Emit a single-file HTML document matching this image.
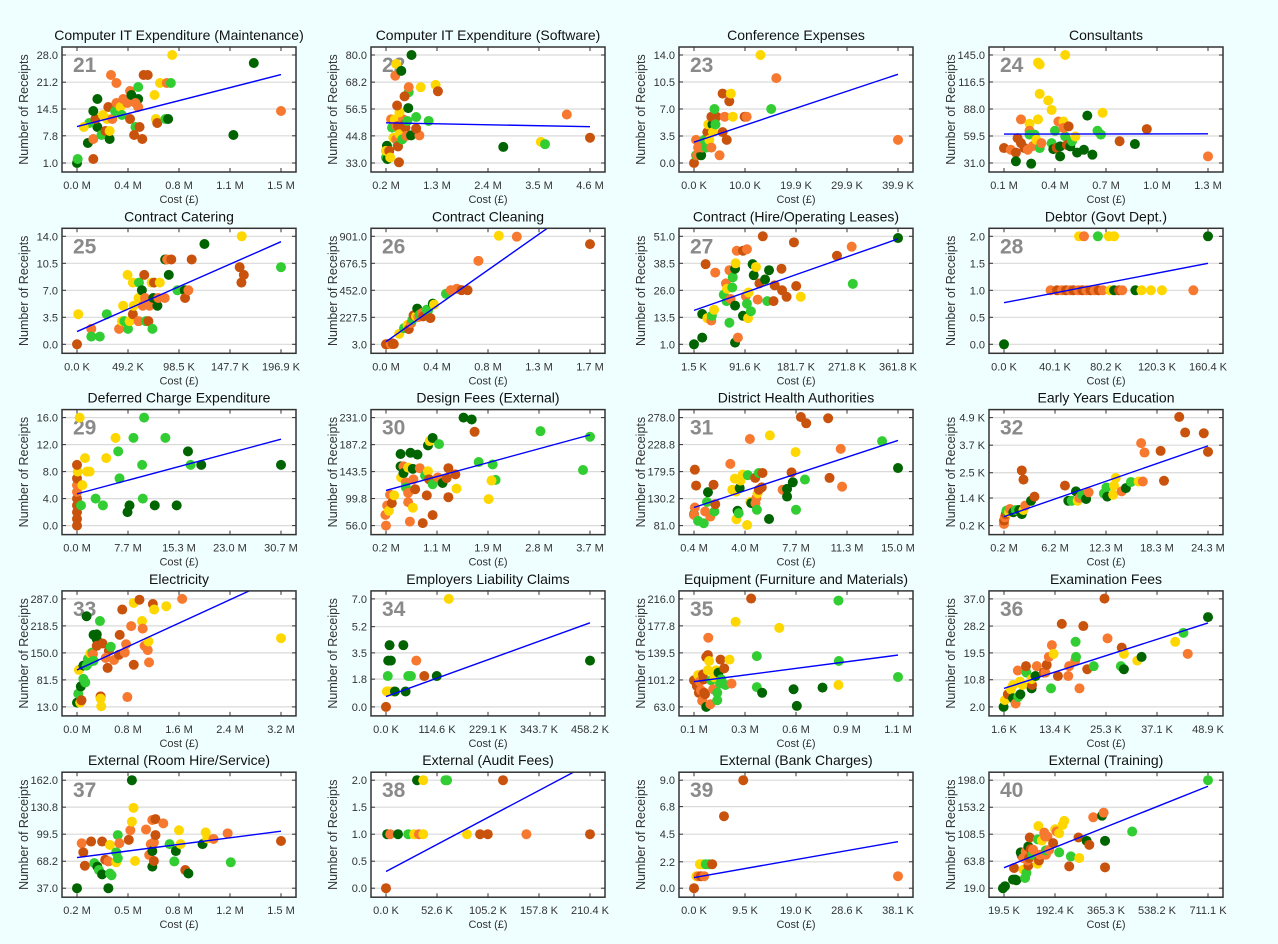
<!DOCTYPE html>
<html><head><meta charset="utf-8">
<style>
html,body{margin:0;padding:0;background:#effefe;}
svg{display:block;font-family:"Liberation Sans",Arial,sans-serif;}
</style></head>
<body>
<svg id="chart" width="1278" height="944" viewBox="0 0 1278 944"></svg>
<script>
const titles = ["Computer IT Expenditure (Maintenance)","Computer IT Expenditure (Software)","Conference Expenses","Consultants",
"Contract Catering","Contract Cleaning","Contract (Hire/Operating Leases)","Debtor (Govt Dept.)",
"Deferred Charge Expenditure","Design Fees (External)","District Health Authorities","Early Years Education",
"Electricity","Employers Liability Claims","Equipment (Furniture and Materials)","Examination Fees",
"External (Room Hire/Service)","External (Audit Fees)","External (Bank Charges)","External (Training)"];
const panelNumbers = [21,22,23,24,25,26,27,28,29,30,31,32,33,34,35,36,37,38,39,40];
const xTicks = [
["0.0 M","0.4 M","0.8 M","1.1 M","1.5 M"],["0.2 M","1.3 M","2.4 M","3.5 M","4.6 M"],["0.0 K","10.0 K","19.9 K","29.9 K","39.9 K"],["0.1 M","0.4 M","0.7 M","1.0 M","1.3 M"],
["0.0 K","49.2 K","98.5 K","147.7 K","196.9 K"],["0.0 M","0.4 M","0.8 M","1.3 M","1.7 M"],["1.5 K","91.6 K","181.7 K","271.8 K","361.8 K"],["0.0 K","40.1 K","80.2 K","120.3 K","160.4 K"],
["0.0 M","7.7 M","15.3 M","23.0 M","30.7 M"],["0.2 M","1.1 M","1.9 M","2.8 M","3.7 M"],["0.4 M","4.0 M","7.7 M","11.3 M","15.0 M"],["0.2 M","6.2 M","12.3 M","18.3 M","24.3 M"],
["0.0 M","0.8 M","1.6 M","2.4 M","3.2 M"],["0.0 K","114.6 K","229.1 K","343.7 K","458.2 K"],["0.1 M","0.3 M","0.6 M","0.9 M","1.1 M"],["1.6 K","13.4 K","25.3 K","37.1 K","48.9 K"],
["0.2 M","0.5 M","0.8 M","1.2 M","1.5 M"],["0.0 K","52.6 K","105.2 K","157.8 K","210.4 K"],["0.0 K","9.5 K","19.0 K","28.6 K","38.1 K"],["19.5 K","192.4 K","365.3 K","538.2 K","711.1 K"]];
const yTicks = [
["1.0","7.8","14.5","21.2","28.0"],["33.0","44.8","56.5","68.2","80.0"],["0.0","3.5","7.0","10.5","14.0"],["31.0","59.5","88.0","116.5","145.0"],
["0.0","3.5","7.0","10.5","14.0"],["3.0","227.5","452.0","676.5","901.0"],["1.0","13.5","26.0","38.5","51.0"],["0.0","0.5","1.0","1.5","2.0"],
["0.0","4.0","8.0","12.0","16.0"],["56.0","99.8","143.5","187.2","231.0"],["81.0","130.2","179.5","228.8","278.0"],["0.2 K","1.4 K","2.5 K","3.7 K","4.9 K"],
["13.0","81.5","150.0","218.5","287.0"],["0.0","1.8","3.5","5.2","7.0"],["63.0","101.2","139.5","177.8","216.0"],["2.0","10.8","19.5","28.2","37.0"],
["37.0","68.2","99.5","130.8","162.0"],["0.0","0.5","1.0","1.5","2.0"],["0.0","2.2","4.5","6.8","9.0"],["19.0","63.8","108.5","153.2","198.0"]];
// fitted trend line endpoints [x1,y1,x2,y2]
const fits = [[0,10.1,1.5,23.1],[0.2,50.5,4.6,48.8],[0,2.7,39.9,11.5],[0.1,61.5,1.3,61.8],
[0,1.65,196.9,13.3],[0,25,1.7,1217],[1.5,16.7,361.8,49.8],[0,0.77,160.4,1.5],
[0,4.7,30.7,12.8],[0.2,113,3.7,203],[0.4,114,15,236.4],[0.2,0.59,24.3,3.67],
[0,106.8,3.2,344.3],[0,0.67,458.2,5.45],[0.1,98.8,1.1,136.4],[1.6,8,48.9,29.2],
[0.2,72.4,1.5,103],[0,0.31,210.4,2.31],[0,0.89,38.1,3.88],[19.5,53,711.1,188]];
// points [cost, receipts, colourGroup]
const pts = [
[[0,1,0],[0.005,2,1],[0.12,2,4],[0.08,6,0],[0.12,7,3],[0.15,10,0],[0.09,11,1],[0.05,10,2],[0.135,12,4],[0.12,14,0],[0.15,17,0],[0.18,8,1],[0.21,9,4],[0.24,7,0],[0.24,9,2],[0.19,13,2],[0.22,12,2],[0.26,12,3],[0.23,15,4],[0.28,14,1],[0.25,23,3],[0.29,21,3],[0.29,16,3],[0.32,15,2],[0.33,13,1],[0.34,17,3],[0.37,16,3],[0.39,19,3],[0.40,18,0],[0.39,12,4],[0.43,10,1],[0.42,8,4],[0.45,20,1],[0.45,17,0],[0.43,16,3],[0.46,10,4],[0.45,15,3],[0.48,7,4],[0.49,23,4],[0.52,23,4],[0.57,18,2],[0.58,12,2],[0.59,11,4],[0.61,21,2],[0.66,21,3],[0.69,21,1],[0.65,12,1],[0.67,12,0],[0.70,28,2],[1.15,8,0],[1.30,26,0],[1.5,14,3]],
[[0.2,35.4,1],[0.22,40.5,0],[0.23,34.7,0],[0.2,38.3,2],[0.27,38.3,4],[0.29,35.4,2],[0.33,48.4,1],[0.31,52,3],[0.36,44,2],[0.39,52,2],[0.42,43.3,3],[0.45,40.5,1],[0.46,40.2,4],[0.43,49,3],[0.46,49,4],[0.49,45.5,2],[0.48,33.3,4],[0.55,43.3,1],[0.57,52,3],[0.6,49.8,4],[0.62,48.4,4],[0.64,44.8,3],[0.66,51.3,1],[0.49,55.1,2],[0.44,58,4],[0.42,76.1,2],[0.4,71,3],[0.53,73.1,0],[0.75,80,0],[0.68,56.9,0],[0.69,63.8,1],[0.69,66,3],[0.6,62,4],[0.74,45,0],[0.85,53,1],[0.92,45,3],[0.85,48,4],[0.95,66,2],[1.12,51.3,1],[1.27,67,2],[1.32,64.2,4],[2.73,40,0],[3.54,42.2,2],[3.63,41.2,1],[4.1,54.1,3],[4.6,44,4]],
[[0,0,4],[0.4,1,1],[0.6,1,3],[1.4,1,0],[0.4,3,3],[0.8,2,3],[1.6,2,3],[2,3,1],[2.4,2,1],[2.6,4,4],[3,3,2],[2.8,5,2],[3.6,5,0],[3.4,2,3],[3.7,4,2],[3.4,6,4],[4.4,6,4],[4,7,1],[4.2,5,1],[5,1,3],[5.6,4,4],[5.6,9,4],[6,6,3],[6.4,3,4],[6.9,8,4],[7.2,9,2],[7.6,6,2],[9.9,6,4],[10.3,6,3],[13,14,2],[15.1,7,1],[16.1,11,3],[39.9,3,3]],
[[0.1,46.8,4],[0.14,45,3],[0.17,42,4],[0.17,32.8,0],[0.18,57.3,4],[0.2,77,3],[0.2,52,4],[0.22,46.8,4],[0.24,45,3],[0.25,72.4,2],[0.25,65,3],[0.25,61,1],[0.27,49,3],[0.26,30.3,0],[0.28,61,1],[0.29,55.5,2],[0.3,137,2],[0.31,135,2],[0.3,77,2],[0.31,104,2],[0.31,46.8,1],[0.32,52,3],[0.36,97,2],[0.38,87,2],[0.4,65,1],[0.38,52,1],[0.39,45.7,0],[0.41,47,4],[0.42,74.8,3],[0.43,38,0],[0.43,48.5,0],[0.45,74.8,2],[0.46,145,2],[0.46,59,1],[0.45,68,3],[0.48,69.6,4],[0.47,50,4],[0.49,48.5,0],[0.5,54,1],[0.52,59,2],[0.53,42,0],[0.57,45,0],[0.59,81,0],[0.62,39.8,0],[0.65,65,1],[0.67,61,1],[0.68,84,2],[0.78,54,4],[0.87,51,0],[0.94,66.8,4],[1.3,38,3]],
[[0,0,4],[1.2,3.9,2],[13.8,2,3],[13.8,1,1],[22,1,1],[28.7,3.9,1],[40.6,2,3],[43.3,3,2],[44.5,5,2],[45.7,3,1],[49.2,2,1],[50.8,3,2],[48.8,9,2],[53.9,8,2],[53.9,3.9,4],[54.7,5,2],[59.4,6,2],[59.4,3,3],[59.8,8,1],[62.6,7,0],[63.4,5,3],[64.9,9,4],[65.7,6,3],[66.5,3,1],[68.9,3,4],[70,5,3],[72,8,2],[72.8,2,1],[73.6,6,0],[74.4,8,4],[77.6,5,0],[78.4,6,3],[79.9,8,2],[84.7,6,3],[85.1,11,0],[87,11,3],[88.6,9,0],[91,11,4],[96.9,7,1],[104,7,0],[104.3,6,4],[107.5,7,3],[110.7,11,4],[123,13,0],[157,10,4],[158.7,8,4],[159,14,2],[161,9,4],[196.9,10,1]],
[[0,3,4],[0.02,6,4],[0.04,4,3],[0.055,11,4],[0.065,5,4],[0.11,90,2],[0.15,137,1],[0.18,165,2],[0.19,129,4],[0.21,179,3],[0.22,207,1],[0.23,244,4],[0.25,235,2],[0.26,300,0],[0.27,230,3],[0.28,249,1],[0.3,263,3],[0.31,235,4],[0.34,291,1],[0.35,285,1],[0.37,221,4],[0.39,341,0],[0.4,333,2],[0.5,423,1],[0.54,453,3],[0.59,465,3],[0.63,453,4],[0.68,453,4],[0.77,697,3],[0.94,906,2],[1.09,898,3],[1.7,836,4]],
[[1.5,1,0],[16,4.1,0],[16,15,0],[22,38.1,4],[25,13.1,2],[32,12,3],[33,14.2,1],[37,17,2],[39,34.2,3],[54,24,1],[58,29.2,3],[59,21,1],[60,26.7,2],[64,11,1],[64,35.3,3],[66,22,3],[69,27.3,1],[70,32,1],[74,36,0],[74,18.9,0],[75,38.5,2],[74,1.8,0],[79,4.1,3],[77,44.3,3],[88,44.3,4],[95,45,3],[88,14.2,0],[93,23.3,3],[95,19.8,1],[97,13.1,2],[98,25,2],[102,16.3,1],[105,38.1,0],[107,33,0],[111,36.8,2],[114,21.7,3],[117,29.2,4],[123,51,4],[127,31,0],[131,21,1],[134,35.3,0],[142,21,4],[144,28.3,4],[156,36,4],[157,26,4],[165,23,4],[178,48.2,4],[182,28,4],[190,23,2],[254,42,4],[280,46.2,3],[282,29,1],[361.8,50.2,0]],
[[0,0,0],[36.6,1,3],[41.7,1,4],[45.6,1,3],[48.8,1,4],[52,1,3],[54.5,1,4],[58.4,1,3],[61.6,1,4],[64.8,1,3],[68,1,4],[71.2,1,3],[74.4,1,4],[77.6,1,3],[83.4,1,2],[86.6,1,0],[90.5,1,4],[93,1,3],[103.3,1,0],[108.1,1,2],[115.5,1,2],[124.2,1,2],[148.9,1,3],[59,2,2],[62.9,2,3],[73.8,2,1],[82.4,2,2],[86.6,2,2],[160.4,2,0]],
[[0,0,4],[0,1,4],[0,2,4],[0,3,4],[0,4,4],[0,5,3],[0,6,3],[0,7,4],[0.1,8,2],[0,9,4],[0.4,16,2],[0.6,3,1],[0.8,6,2],[1.2,10,2],[1.5,8,2],[1.9,8,2],[2.8,4,1],[3.9,3,1],[4.4,10,2],[5.8,13,2],[6.2,11,1],[6.4,7,1],[7.6,2,0],[7.9,3,0],[8.5,13,1],[9.8,9,1],[9.9,4,1],[10.1,16,1],[11.7,3,0],[13.3,13,1],[15,3,0],[16.7,11,0],[17.1,9,1],[18.7,9,0],[30.7,9,0]],
[[0.2,56,3],[0.19,73.4,3],[0.22,88.6,3],[0.25,80,2],[0.27,106,3],[0.3,92.4,4],[0.34,105,2],[0.45,172,0],[0.46,134,2],[0.45,152,0],[0.5,152,3],[0.5,141,0],[0.54,126,3],[0.54,118,1],[0.58,150,2],[0.58,109,3],[0.58,94,3],[0.61,62.5,3],[0.62,174,0],[0.66,148,0],[0.66,85,2],[0.67,131,3],[0.7,115,4],[0.74,171,0],[0.78,149,3],[0.83,60,4],[0.87,137,1],[0.9,105,4],[0.92,144,2],[0.92,186,0],[0.95,193,2],[0.94,131,4],[1.0,198,0],[1.0,73,4],[1.0,123,1],[1.09,134,3],[1.11,188,1],[1.17,125,0],[1.24,133,4],[1.27,149,4],[1.27,102,4],[1.39,139,4],[1.41,116,2],[1.53,231,0],[1.67,228,0],[1.72,208,4],[1.79,159,1],[2.03,155,1],[2.08,130,1],[2.01,129,2],[1.96,99,2],[2.85,209,1],[3.58,146,1],[3.7,200,1]],
[[0.4,101.8,0],[0.46,114,3],[0.4,100.6,3],[0.46,183,4],[0.55,154,4],[0.69,89.6,1],[1.1,85.3,1],[1.2,106.7,3],[1.33,124,1],[1.4,142,0],[1.57,97.5,3],[1.8,155.6,4],[1.86,106.7,1],[1.92,120,4],[3,193.6,3],[3.14,146.5,2],[3.4,143,2],[3.32,166.6,2],[3.44,92.6,2],[3.52,108,0],[3.6,103.6,1],[3.67,149.5,0],[3.73,163,2],[3.88,174,2],[4.2,82,2],[4.25,173,1],[4.4,239,3],[4.43,124,2],[4.5,122,0],[4.78,168,4],[4.8,122,3],[4.86,131,3],[4.9,109.8,1],[4.95,140,2],[5.04,177,1],[5.04,146.5,4],[5.25,150.7,4],[5.3,177,4],[5.77,93,0],[5.83,245.5,2],[6.74,146.5,3],[7.06,148,0],[7.06,134,0],[7.38,178,4],[7.47,160,0],[7.7,109.8,1],[7.67,215,2],[8.05,279,4],[8.34,165,1],[8.43,267.6,4],[10,276.8,4],[10.1,168,4],[10.9,221,3],[11,152,3],[13.86,235,1],[15,186,0]],
[[0.2,0.27,3],[0.2,0.42,4],[0.3,0.56,3],[0.4,0.7,4],[0.5,0.85,1],[0.8,0.78,2],[0.9,0.92,3],[1.3,0.78,0],[1.6,0.88,1],[2,0.88,0],[2.3,0.7,0],[2.5,0.88,2],[2.7,1.07,3],[2.3,2.6,4],[2.5,2.2,4],[3.4,1.28,0],[3.8,1.46,4],[7.4,1.94,4],[7.8,1.28,0],[8.2,1.28,1],[8.7,1.69,0],[8.9,1.28,2],[9.1,1.4,3],[9.4,1.54,1],[9.9,1.36,0],[10.2,1.65,3],[12,1.6,1],[12.3,1.86,1],[12.4,1.46,0],[13.1,1.54,2],[13.2,1.94,2],[13.4,2.27,2],[14.1,1.69,3],[14.6,1.83,0],[15.2,2.1,1],[16.1,2.12,2],[16.6,2.12,3],[16.4,3.79,3],[16.8,3.38,3],[18.7,3.45,4],[19.1,2.15,4],[20.9,4.93,4],[21.6,4.25,4],[23.8,4.22,4],[24.3,3.41,4]],
[[0,23.9,0],[0.02,46.5,1],[0.05,23.9,2],[0.07,29.8,4],[0.06,65,0],[0.1,84,1],[0.13,75,1],[0.03,106.8,2],[0.1,117.7,0],[0.15,117.7,1],[0.17,134.5,1],[0.19,126,1],[0.21,148.7,2],[0.24,151,1],[0.25,147,3],[0.26,130,1],[0.15,243,0],[0.26,195.7,0],[0.31,197,0],[0.31,184.8,0],[0.36,230.8,1],[0.31,168,4],[0.37,39.8,4],[0.37,34,2],[0.38,14.7,2],[0.4,174,4],[0.48,111.9,4],[0.5,155.5,4],[0.53,165.5,1],[0.45,137,3],[0.58,132,3],[0.66,145.4,4],[0.67,195.7,4],[0.71,260,4],[0.75,151,3],[0.77,172,3],[0.79,38,3],[0.85,218,3],[0.89,120,4],[0.89,277,2],[0.98,285,4],[1.02,230.8,2],[1.03,211.6,3],[1.06,168,3],[1.11,157,3],[1.12,179,2],[1.13,126,3],[1.19,274,4],[1.21,260,2],[1.4,268.5,2],[1.65,287,3],[3.2,187.3,2]],
[[0,0,4],[2,1,2],[6,1,2],[14,1,2],[20,1,0],[4,2,1],[5,3,0],[11,3,0],[8,4,0],[39,4,0],[44,1,0],[50,2,1],[56,2,1],[68,3,3],[86,2,4],[114,2,0],[141,7,2],[458.2,3,0]],
[[0.1,100.7,4],[0.114,92.7,4],[0.12,108,2],[0.124,83,4],[0.128,98.8,3],[0.134,86.5,3],[0.14,71.5,3],[0.144,109,4],[0.148,102,4],[0.15,83,4],[0.154,81,4],[0.16,63,0],[0.16,133.6,4],[0.168,136.4,4],[0.17,161,3],[0.174,128,2],[0.168,114.8,2],[0.18,66.8,3],[0.184,100.7,1],[0.194,88,3],[0.2,105,2],[0.208,114.8,2],[0.214,83,1],[0.214,72.4,1],[0.22,111.5,0],[0.228,96,1],[0.23,130,4],[0.234,102,1],[0.248,117.6,4],[0.254,94,1],[0.274,130,2],[0.284,96,3],[0.304,183.5,2],[0.38,216.5,4],[0.408,135,1],[0.408,91,1],[0.434,83,0],[0.518,175,2],[0.588,88,0],[0.604,64.4,0],[0.73,90.3,0],[0.808,213.6,1],[0.81,128,1],[0.808,94,2],[1.1,105.4,1]],
[[1.5,2,0],[1.8,4.2,2],[2.5,6.1,4],[3.2,7.7,2],[3.7,4.8,0],[4.3,3.1,3],[4.9,5.2,1],[5.4,6.1,0],[3.7,9.1,2],[5.3,10.2,2],[5.9,9.1,2],[4.8,13.8,3],[6.8,13.1,1],[6.7,15.2,4],[8,8,0],[8.1,9.1,4],[8,11,2],[8.9,12,0],[9.2,15.2,3],[10.8,13.1,4],[11.2,13.1,3],[11.5,15.6,4],[12,18.2,3],[12.5,8,1],[12.7,22,3],[13.1,19.2,2],[14.1,12,4],[15,28.9,4],[16.5,12,3],[16.7,15.2,3],[18.1,17,3],[18.2,23.1,1],[18.3,18.2,1],[19.1,8,3],[20,28.2,4],[20.9,14.2,4],[22.4,15.2,1],[24.9,37.1,4],[25.6,24.2,3],[28.7,15.2,1],[28.9,21.2,4],[29.4,19.2,2],[29.4,14.2,0],[32.5,17,2],[33.5,18.2,0],[41.3,23.1,2],[43.2,26,1],[44.2,19.2,3],[48.9,31.1,0]],
[[0.2,37,0],[0.23,89,3],[0.24,78.5,4],[0.25,63,4],[0.29,91,4],[0.31,66,1],[0.33,62,0],[0.34,58,1],[0.36,53,0],[0.36,91,4],[0.38,70,4],[0.4,37,0],[0.4,68,3],[0.41,54,1],[0.42,52,1],[0.41,87,2],[0.45,67,2],[0.45,78.5,1],[0.46,98.5,1],[0.47,89,3],[0.46,71.6,1],[0.53,93,4],[0.54,104,3],[0.55,162,0],[0.56,130,2],[0.55,114,2],[0.57,68.5,2],[0.64,105,3],[0.66,75.5,3],[0.67,88,3],[0.68,80,0],[0.68,62,0],[0.68,116,3],[0.69,90,3],[0.69,68.5,4],[0.7,117,4],[0.7,98.5,4],[0.75,112,3],[0.79,88,1],[0.82,68,1],[0.83,80,0],[0.85,104,2],[0.86,88,2],[0.89,58,4],[0.91,54,0],[1.0,88,0],[1.02,101.6,2],[1.03,94.7,2],[1.07,94,3],[1.16,100.5,3],[1.18,67,1],[1.5,91.6,4]],
[[0,0,4],[1.2,1,0],[4.3,1,3],[12.4,1,0],[22.9,1,1],[29,1,2],[34,1,3],[38.4,1,2],[83.5,1,2],[97,1,4],[105,1,4],[144.8,1,3],[210.4,1,4],[32,2,0],[38.4,2,2],[61.3,2,1],[63,2,1],[120.7,2,4]],
[[0,0,4],[0.45,1,2],[0.8,1,3],[1.3,1,4],[1.1,2,2],[1.7,2,2],[2.2,2,1],[2.8,2,1],[3.4,2,4],[1.9,1,3],[5.6,6,4],[9.2,9,4],[38.1,1,3]],
[[16,19,0],[22.9,22.3,0],[50,33.3,0],[57,33.3,0],[61.5,32.2,0],[53.5,52.5,4],[85.3,49.8,2],[91,36,1],[95.5,44.3,1],[102,56.4,4],[98.9,65,3],[79.6,72.8,4],[76.2,78.3,0],[84.2,69,3],[93.2,80,3],[102,88.2,0],[104.5,69,4],[110,83.8,4],[115.9,74.5,1],[118,82.7,3],[106.8,103,4],[134,100,1],[136,122,2],[133,59.6,2],[138,65,4],[141,74.5,3],[147.7,98,2],[156,111.2,3],[159,104.7,3],[161.3,74.5,3],[161.3,81.6,1],[167,104.7,3],[172.5,82.6,3],[186,93.7,4],[193,116.7,2],[197.5,113,3],[206.5,110,2],[206.5,78.3,1],[218,123.9,2],[223.6,130.5,2],[240.6,55.2,4],[246.3,71.7,1],[272,103,4],[274.6,69,2],[299.6,97.5,0],[308.6,90.9,4],[322,136.5,3],[351.7,139.2,0],[357.3,144.2,3],[362,97.5,0],[362,53.6,4],[454,112.9,1],[711.1,198,1]]];
const groupColors = ["#006400","#32cd32","#ffd700","#f7782f","#c9520c"];

const NS = "http://www.w3.org/2000/svg";
const svg = document.getElementById("chart");
function mk(tag, attrs, parent){ const e=document.createElementNS(NS,tag); for(const k in attrs) e.setAttribute(k,attrs[k]); (parent||svg).appendChild(e); return e; }
const defs = mk("defs",{});

for(let i=0;i<20;i++){
  const col=i%4, row=Math.floor(i/4);
  const dx0=[77,386,694,1004][col], dx1=dx0+204;
  const dyMax=55+row*181.3, dyMin=dyMax+108;
  const bx=dx0-15, by=dyMax-8, bw=234, bh=125;
  const xmin=parseFloat(xTicks[i][0]), xmax=parseFloat(xTicks[i][4]);
  const ymin=parseFloat(yTicks[i][0]), ymax=parseFloat(yTicks[i][4]);
  const sx=v=>dx0+(v-xmin)/(xmax-xmin)*(dx1-dx0);
  const sy=v=>dyMin-(v-ymin)/(ymax-ymin)*(dyMin-dyMax);
  const g=mk("g",{});
  
  
  const cp=mk("clipPath",{id:"cp"+i},defs); mk("rect",{x:bx,y:by,width:bw,height:bh},cp);
  const bg=mk("rect",{x:bx,y:by,width:bw,height:bh,fill:"#ffffff"},g);
  
  
  const t=mk("text",{x:bx+bw/2,y:by-7,"text-anchor":"middle","font-size":"14",fill:"#111"},g);
  t.textContent=titles[i];
  
  
  for(let k=0;k<5;k++){
    const yy=sy(parseFloat(yTicks[i][k]));
    const gl=mk("line",{x1:bx,x2:bx+bw,y1:yy,y2:yy,stroke:"#dadada","stroke-width":"1.2"},g);
    
    
    mk("line",{x1:bx,x2:bx+4,y1:yy,y2:yy,stroke:"#333","stroke-width":"1"},g);
    mk("line",{x1:bx+bw-4,x2:bx+bw,y1:yy,y2:yy,stroke:"#333","stroke-width":"1"},g);
    const yl=mk("text",{x:bx-4,y:yy+4,"text-anchor":"end","font-size":"11",fill:"#333"},g);
    yl.textContent=yTicks[i][k];
    
    
    const xx=dx0+k*(dx1-dx0)/4;
    mk("line",{x1:xx,x2:xx,y1:by+bh,y2:by+bh-4,stroke:"#333","stroke-width":"1"},g);
    mk("line",{x1:xx,x2:xx,y1:by,y2:by+4,stroke:"#333","stroke-width":"1"},g);
    const xl=mk("text",{x:xx,y:by+bh+17,"text-anchor":"middle","font-size":"11",fill:"#333"},g);
    xl.textContent=xTicks[i][k];
    
    
  }
  const num=mk("text",{x:bx+11,y:by+25,"font-size":"21","font-weight":"bold",fill:"#8a8a8a"},g);
  num.textContent=panelNumbers[i];
  
  
  const pg=mk("g",{"clip-path":"url(#cp"+i+")"},g);
  pts[i].forEach(p=>{
    const c=mk("circle",{cx:sx(p[0]),cy:sy(p[1]),r:5,fill:groupColors[p[2]]},pg);
    
    
  });
  const f=fits[i];
  const ln=mk("line",{x1:sx(f[0]),y1:sy(f[1]),x2:sx(f[2]),y2:sy(f[3]),stroke:"#0000ff","stroke-width":"1.4"},pg);
  
  
  const fr=mk("rect",{x:bx,y:by,width:bw,height:bh,fill:"none",stroke:"#333","stroke-width":"1.5"},g);
  
  
  const xa=mk("text",{x:bx+bw/2,y:by+bh+31,"text-anchor":"middle","font-size":"11",fill:"#333"},g);
  xa.textContent="Cost (£)";
  
  
  const cx=bx-34, cy=by+bh/2;
  const ya=mk("text",{x:cx,y:cy,"text-anchor":"middle","font-size":"12.5",fill:"#333",transform:"rotate(-90 "+cx+" "+cy+")"},g);
  ya.textContent="Number of Receipts";
  
  
}
</script>
</body></html>
